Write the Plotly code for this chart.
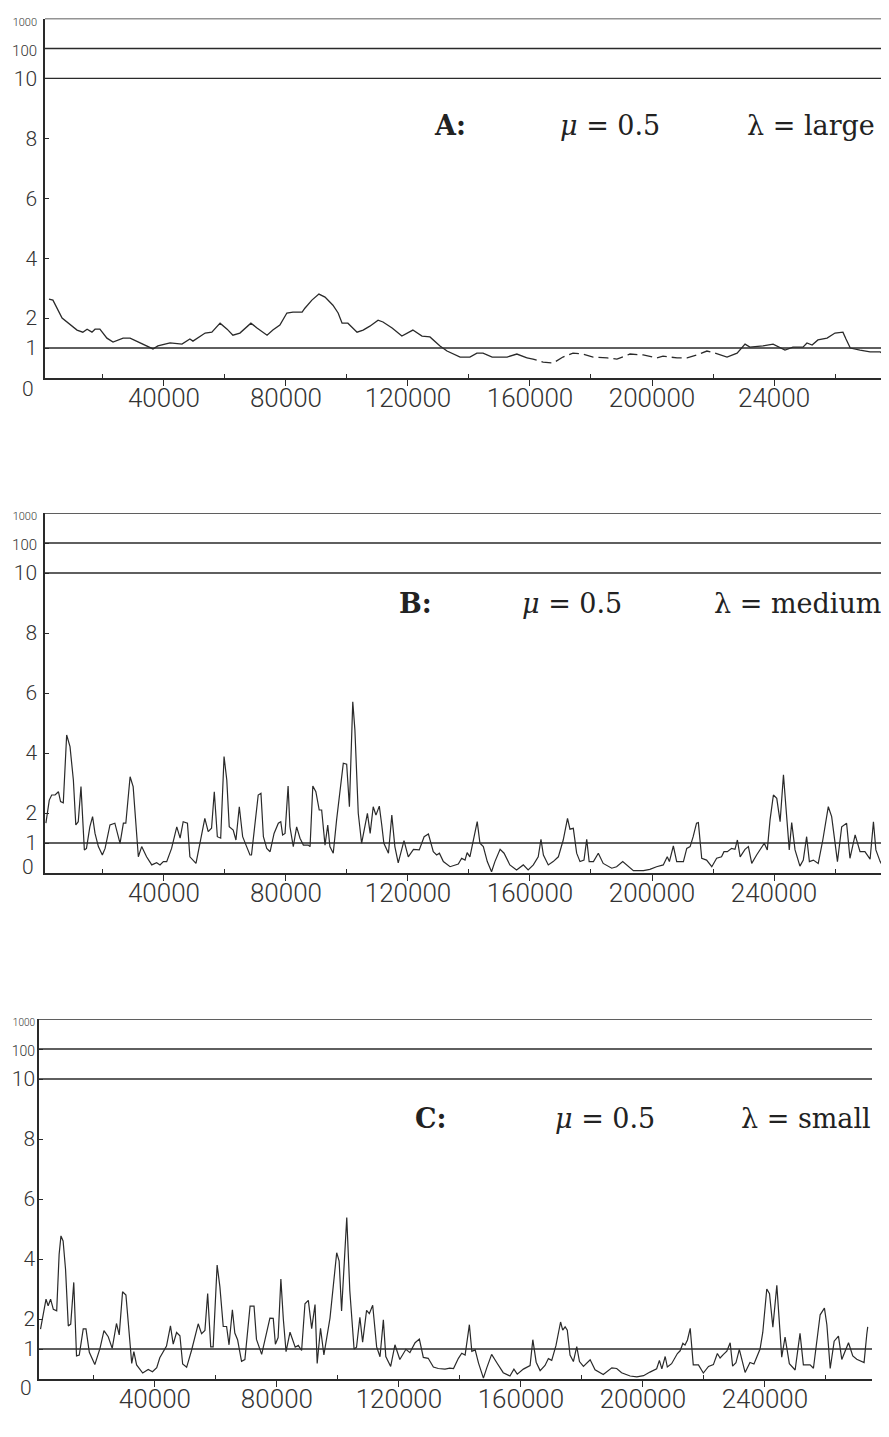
import numpy as np
import plotly.graph_objects as go

# ---------------- data (positions in thousands, values on the original scale) ----------------
PANELS = ["A", "B", "C"]
LAMBDA_TEXT = ["large", "medium", "small"]
MU = 0.5

X_TICKS = [40000, 80000, 120000, 160000, 200000, 240000]
X_MINOR_TICKS = [20000, 60000, 100000, 140000, 180000, 220000, 260000]
X_TEXT_A = ["40000", "80000", "120000", "160000", "200000", "24000"]
X_TEXT_BC = ["40000", "80000", "120000", "160000", "200000", "240000"]
Y_TICK_VALUES = [1, 2, 4, 6, 8, 10, 100, 1000]
REF_LEVELS = [1, 10, 100, 1000]

a_pos_k = [2.3, 3.6, 6.6, 11.5, 13.4, 14.8, 16.4, 17.4, 19.0, 21.3, 23.3, 26.6, 28.9, 32.1, 34.8,
           36.4, 38.0, 42.0, 45.9, 48.5, 49.5, 53.5, 55.7, 58.4, 60.7, 62.6, 64.9, 66.6, 68.5, 70.5,
           73.8, 75.7, 78.0, 80.3, 82.3, 85.3, 86.2, 88.5, 90.8, 92.8, 95.4, 97.1, 98.4, 100.3, 103.3,
           105.3, 107.5, 110.2, 111.8, 114.8, 118.0, 121.6, 124.6, 127.2, 130.5, 132.8, 137.1, 140.3,
           142.6, 144.6, 147.6, 152.5, 155.7, 159.0, 161.0, 164.3, 167.6, 170.8, 174.1, 177.4, 180.7,
           185.3, 188.5, 192.8, 197.1, 201.6, 203.6, 208.2, 211.5, 214.8, 218.0, 220.7, 224.6, 227.9,
           230.5, 232.1, 236.4, 239.7, 243.6, 246.2, 249.5, 250.8, 252.5, 254.4, 257.4, 260.0, 262.6,
           263.6, 265.0, 268.2, 271.5, 274.8, 277.7]
a_val = [2.63, 2.6, 2.0, 1.6, 1.53, 1.63, 1.53, 1.63, 1.63, 1.33, 1.2, 1.33, 1.33, 1.17, 1.03,
         0.97, 1.07, 1.17, 1.13, 1.3, 1.23, 1.5, 1.53, 1.83, 1.63, 1.43, 1.5, 1.67, 1.83, 1.67,
         1.43, 1.6, 1.77, 2.17, 2.2, 2.2, 2.33, 2.6, 2.8, 2.7, 2.43, 2.17, 1.83, 1.83, 1.53,
         1.6, 1.73, 1.93, 1.87, 1.67, 1.4, 1.6, 1.4, 1.37, 1.07, 0.9, 0.7, 0.7,
         0.83, 0.83, 0.7, 0.7, 0.8, 0.67, 0.63, 0.53, 0.5, 0.7, 0.83, 0.8, 0.7,
         0.67, 0.63, 0.8, 0.77, 0.67, 0.73, 0.67, 0.67, 0.77, 0.9, 0.83, 0.7, 0.83,
         1.13, 1.03, 1.07, 1.13, 0.93, 1.03, 1.03, 1.17, 1.1, 1.27, 1.33, 1.5, 1.53,
         1.3, 1.0, 0.93, 0.87, 0.87, 0.67]
a_dashed_span_k = [159.0, 220.7]

b_pos_k = [1.3, 2.4, 3.2, 4.3, 5.4, 6.1, 7.0, 8.1, 9.2, 10.3, 11.1, 11.9, 12.8, 13.3, 13.9, 14.6,
           15.7, 16.6, 17.4, 18.5, 19.8, 20.7, 22.3, 23.9, 25.6, 26.7, 27.5, 28.9, 29.9, 31.6, 32.7,
           34.3, 36.0, 37.6, 38.7, 39.8, 40.9, 42.5, 44.2, 45.3, 46.3, 47.7, 48.5, 50.5, 51.8, 53.4,
           54.5, 55.6, 56.5, 57.5, 58.6, 59.7, 60.6, 61.4, 62.7, 63.6, 64.7, 65.8, 67.1, 68.2, 68.7,
           69.8, 70.9, 71.8, 72.6, 73.7, 74.8, 76.1, 77.5, 78.3, 78.9, 79.7, 80.7, 81.3, 82.4, 83.5,
           84.6, 85.7, 87.3, 87.9, 88.8, 89.8, 90.9, 91.7, 92.8, 93.7, 94.4, 95.5, 96.6, 98.8, 99.9,
           100.8, 101.9, 102.6, 103.7, 104.8, 105.6, 106.7, 107.6, 108.6, 109.5, 110.6, 111.4, 112.1,
           113.6, 114.7, 115.7, 116.8, 118.7, 120.1, 121.8, 123.7, 125.3, 126.7, 128.3, 129.4, 130.3,
           131.6, 133.8, 136.5, 137.6, 138.7, 139.4, 140.3, 141.9, 142.7, 143.6, 144.7, 146.0, 147.4,
           148.5, 150.2, 151.5, 153.4, 155.6, 157.8, 159.4, 161.1, 162.7, 163.6, 164.4, 166.0, 167.6,
           169.3, 170.9, 172.3, 173.1, 174.2, 175.3, 176.4, 177.7, 178.6, 179.4, 180.8, 182.4, 184.0,
           186.8, 188.4, 190.4, 191.7, 193.9, 197.2, 199.3, 201.5, 203.7, 205.0, 205.7, 207.0, 208.1,
           210.3, 211.4, 212.5, 213.5, 214.6, 215.2, 216.3, 217.9, 219.6, 221.2, 222.8, 223.6, 224.7,
           226.1, 227.2, 228.0, 228.9, 230.5, 231.6, 232.7, 234.3, 236.0, 236.8, 237.8, 238.7, 239.8,
           240.9, 242.0, 243.1, 243.9, 245.0, 245.8, 246.9, 248.5, 249.6, 250.7, 251.6, 252.9, 254.5,
           256.0, 257.8, 258.9, 260.8, 262.2, 263.8, 264.9, 266.6, 268.2, 269.8, 271.5, 272.6, 273.4,
           274.8, 276.4, 277.7]
b_val = [1.66, 2.43, 2.6, 2.6, 2.71, 2.38, 2.34, 4.6, 4.21, 3.1, 1.6, 1.71, 2.88, 1.71, 0.77, 0.82,
         1.54, 1.88, 1.32, 0.88, 0.6, 0.82, 1.6, 1.66, 0.99, 1.66, 1.66, 3.21, 2.88, 0.54, 0.88,
         0.54, 0.27, 0.34, 0.27, 0.38, 0.38, 0.82, 1.54, 1.16, 1.71, 1.66, 0.54, 0.32, 1.04, 1.82,
         1.38, 1.49, 2.71, 1.21, 1.16, 3.88, 3.1, 1.54, 1.43, 1.1, 2.21, 1.21, 0.88, 0.6, 0.6,
         1.54, 2.6, 2.66, 1.21, 0.82, 0.71, 1.32, 1.66, 1.71, 1.27, 1.32, 2.9, 1.54, 0.88, 1.54,
         1.16, 0.93, 0.93, 0.88, 2.9, 2.71, 2.1, 2.1, 0.93, 1.6, 0.88, 0.66, 1.77, 3.66, 3.63,
         2.21, 5.71, 4.77, 1.99, 0.99, 1.43, 1.99, 1.32, 2.21, 1.93, 2.23, 1.6, 0.99,
         0.66, 1.93, 0.88, 0.34, 1.08, 0.54, 0.79, 0.77, 1.21, 1.3, 0.71, 0.6, 0.66,
         0.38, 0.21, 0.3, 0.49, 0.43, 0.68, 0.54, 1.32, 1.71, 0.99, 0.88, 0.38, 0.04,
         0.38, 0.79, 0.66, 0.27, 0.1, 0.27, 0.1, 0.27, 0.54, 1.12, 0.6, 0.27, 0.38,
         0.54, 1.1, 1.82, 1.46, 1.49, 0.66, 0.38, 0.43, 1.12, 0.38, 0.38, 0.66, 0.32,
         0.16, 0.21, 0.38, 0.27, 0.08, 0.08, 0.12, 0.21, 0.27, 0.54, 0.38, 0.9, 0.38,
         0.38, 0.82, 0.88, 1.21, 1.66, 1.68, 0.49, 0.43, 0.21, 0.49, 0.54, 0.71, 0.71,
         0.82, 0.79, 1.1, 0.54, 0.79, 0.88, 0.32, 0.6, 0.88, 0.99, 0.77, 1.77, 2.6,
         2.49, 1.71, 3.27, 2.21, 0.77, 1.68, 0.77, 0.23, 0.43, 1.21, 0.38, 0.43, 0.32,
         1.1, 2.21, 1.88, 0.38, 1.54, 1.66, 0.49, 1.27, 0.71, 0.71, 0.46, 1.71, 0.77,
         0.38, 0.1, 0.04]

c_pos_k = [2.5, 3.4, 4.3, 5.0, 5.8, 6.7, 7.8, 8.6, 9.2, 9.9, 10.7, 11.6, 12.4, 13.4, 14.3, 15.2,
           16.5, 17.4, 18.5, 20.3, 22.0, 23.3, 24.7, 26.0, 27.4, 28.3, 29.4, 30.5, 32.4, 33.1, 34.0,
           36.0, 37.8, 39.2, 40.6, 41.6, 43.8, 45.1, 46.0, 47.1, 48.2, 49.1, 50.4, 52.0, 54.2, 55.3,
           56.4, 57.3, 58.3, 59.1, 60.4, 61.3, 62.4, 63.5, 64.3, 65.4, 66.2, 67.1, 68.4, 69.5, 71.2,
           72.5, 73.3, 75.0, 76.6, 77.7, 78.8, 79.5, 80.4, 81.3, 82.1, 83.0, 84.3, 86.0, 87.0, 88.1,
           89.2, 90.3, 91.4, 92.5, 93.2, 94.3, 95.4, 97.4, 99.6, 100.4, 101.2, 102.9, 103.9, 105.3,
           106.1, 107.2, 108.1, 109.4, 110.3, 111.4, 112.7, 113.8, 114.9, 115.7, 117.3, 118.7, 120.3,
           122.3, 123.6, 125.3, 126.7, 128.0, 129.6, 131.3, 132.9, 135.1, 136.7, 137.9, 139.5, 140.6,
           141.7, 143.1, 143.9, 145.0, 146.1, 147.7, 148.8, 150.4, 152.1, 154.2, 156.4, 157.7, 158.8,
           160.8, 163.0, 163.9, 165.0, 166.3, 167.9, 169.0, 170.1, 171.5, 173.0, 173.7, 174.5, 175.2,
           176.1, 177.2, 178.3, 179.2, 180.5, 182.7, 184.3, 187.0, 189.8, 191.4, 193.0, 195.8, 198.0,
           200.2, 202.3, 204.5, 205.4, 206.2, 207.3, 208.0, 209.4, 211.3, 212.2, 213.1, 213.8, 214.6,
           215.5, 216.5, 218.2, 219.8, 221.5, 223.1, 224.4, 225.3, 226.4, 227.5, 228.6, 229.4, 230.5,
           231.6, 233.5, 235.1, 236.4, 237.9, 238.4, 239.3, 240.6, 241.5, 242.6, 243.9, 245.0, 245.5,
           246.6, 248.0, 249.9, 251.5, 252.6, 254.8, 255.9, 258.1, 259.5, 260.3, 261.4, 262.7, 264.1,
           265.2, 267.4, 268.8, 270.1, 271.7, 272.5, 273.4, 273.7]
c_val = [1.66, 2.21, 2.66, 2.44, 2.66, 2.32, 2.27, 4.16, 4.77, 4.6, 3.66, 1.77, 1.83, 3.22, 0.77, 0.8,
         1.67, 1.67, 0.89, 0.48, 1.02, 1.61, 1.41, 1.02, 1.85, 1.47, 2.91, 2.8, 0.52, 0.91, 0.47,
         0.2, 0.32, 0.24, 0.38, 0.71, 1.1, 1.77, 1.16, 1.55, 1.44, 0.5, 0.39, 0.95, 1.84, 1.51,
         1.62, 2.85, 1.07, 1.07, 3.8, 3.08, 1.75, 1.75, 1.14, 2.31, 1.53, 1.31, 0.59, 0.65, 2.43,
         2.43, 1.32, 0.82, 1.49, 2.03, 2.02, 1.16, 1.38, 3.33, 2.0, 0.91, 1.56, 1.06, 1.12, 0.95,
         2.51, 2.62, 1.68, 2.48, 0.52, 1.69, 0.8, 2.03, 4.21, 3.93, 2.27, 5.38, 2.94, 1.0,
         1.06, 2.06, 1.23, 2.29, 2.18, 2.46, 1.07, 0.74, 1.97, 0.75, 0.42, 1.14, 0.65,
         0.99, 0.88, 1.21, 1.33, 0.72, 0.69, 0.4, 0.35, 0.33, 0.36, 0.35, 0.69, 0.86,
         0.8, 1.81, 0.92, 0.97, 0.53, 0.03, 0.37, 0.82, 0.54, 0.21, 0.1, 0.33, 0.16,
         0.33, 0.45, 1.31, 0.56, 0.28, 0.45, 0.68, 0.62, 1.12, 1.9, 1.63, 1.74, 1.63,
         0.8, 0.58, 1.08, 0.58, 0.42, 0.64, 0.31, 0.15, 0.37, 0.35, 0.21, 0.1, 0.07,
         0.11, 0.23, 0.34, 0.62, 0.34, 0.75, 0.4, 0.51, 0.85, 0.94, 1.19, 1.13, 1.3,
         1.69, 0.47, 0.47, 0.2, 0.42, 0.48, 0.85, 0.7, 0.82, 0.93, 1.21, 0.43, 0.54,
         0.99, 0.22, 0.55, 0.5, 0.83, 1.0, 1.56, 3.0, 2.84, 1.73, 3.12, 1.68, 0.73,
         1.4, 0.51, 0.3, 1.52, 0.47, 0.47, 0.36, 2.14, 2.36, 1.81, 0.35, 1.26, 1.43,
         0.65, 1.21, 0.77, 0.66, 0.6, 0.55, 1.5, 1.74]

# ---------------- helpers ----------------
def ymap(v):
    """Linear from 0 to 10, then one unit per decade (10 -> 100 -> 1000)."""
    v = np.asarray(v, dtype=float)
    return np.where(v <= 10, v, 10 + np.log10(np.maximum(v, 10) / 10))

INK = "#2a2a2a"
TICK_FONT_Y = dict(family="Roboto", size=21, color="#333333", weight=300)
TICK_FONT_X = dict(family="Roboto", size=26, color="#333333", weight=300)
TEXT_FONT = dict(family="DejaVu Serif", size=27, color="#222222")

series = [
    (np.array(a_pos_k) * 1000, np.array(a_val)),
    (np.array(b_pos_k) * 1000, np.array(b_val)),
    (np.array(c_pos_k) * 1000, np.array(c_val)),
]

# the page places the figure 8 px in from the window's top-left corner
OFF = 8
PAGE_W, PAGE_H = 889, 1437
W, H = PAGE_W - OFF, PAGE_H - OFF


def px(xp):
    return (xp - OFF) / W


def py(yp):
    return 1 - (yp - OFF) / H


# frame of each panel in window pixels
frames = [
    dict(left=45, right=889, top=18.5, bottom=378, xr=[1000, 277700], zero_shift=-11,
         text_y=8.43, lab_k=127.9, mu_k=169.2, lam_px=877, xtext=X_TEXT_A,
         big_sizes=(11, 15), ystand=2),
    dict(left=45, right=889, top=513, bottom=873, xr=[1000, 277700], zero_shift=6,
         text_y=9.0, lab_k=116.4, mu_k=156.7, lam_px=883, xtext=X_TEXT_BC,
         big_sizes=(11, 15), ystand=2),
    dict(left=39, right=872, top=1019, bottom=1379, xr=[2000, 275100], zero_shift=-9,
         text_y=8.7, lab_k=124.6, mu_k=170.5, lam_px=873, xtext=X_TEXT_BC,
         big_sizes=(10, 14), ystand=-2),
]


def ytick_text(big_sizes):
    out = []
    for v in Y_TICK_VALUES:
        s = str(v)
        if v == 1000:
            s = '<span style="font-size:%dpx">%s</span>' % (big_sizes[0], s)
        elif v == 100:
            s = '<span style="font-size:%dpx">%s</span>' % (big_sizes[1], s)
        out.append(s)
    return out


fig = go.Figure()
layout = dict(width=W, height=H, margin=dict(l=0, r=0, t=0, b=0, autoexpand=False),
              paper_bgcolor="white", plot_bgcolor="rgba(0,0,0,0)", showlegend=False)
shapes = []
annotations = []

for i, (fr, (xs, ys)) in enumerate(zip(frames, series)):
    n = "" if i == 0 else str(i + 1)
    xa, ya = "x" + n, "y" + n
    ym = ymap(ys)
    if i == 0:
        lo, hi = np.array(a_dashed_span_k) * 1000
        m1 = xs <= lo
        m2 = (xs >= lo) & (xs <= hi)
        m3 = xs >= hi
        for m, dash in [(m1, "solid"), (m2, "10px,5px"), (m3, "solid")]:
            fig.add_trace(go.Scatter(x=xs[m], y=ym[m], mode="lines", xaxis=xa, yaxis=ya,
                                     line=dict(color=INK, width=1.3, dash=dash), hoverinfo="skip"))
    else:
        fig.add_trace(go.Scatter(x=xs, y=ym, mode="lines", xaxis=xa, yaxis=ya,
                                 line=dict(color=INK, width=1.2), hoverinfo="skip"))

    layout["xaxis" + n] = dict(
        domain=[px(fr["left"]), min(1.0, px(fr["right"]))], range=fr["xr"], anchor=ya,
        tickmode="array", tickvals=X_TICKS, ticktext=fr["xtext"],
        ticks="outside", ticklen=6, tickwidth=1.2, tickcolor=INK,
        minor=dict(tickvals=X_MINOR_TICKS, ticks="inside", ticklen=4, tickwidth=1.2,
                   tickcolor=INK, showgrid=False),
        showline=True, linecolor=INK, linewidth=1.5, showgrid=False, zeroline=False,
        tickfont=TICK_FONT_X, ticklabelstandoff=-10, automargin=False)
    layout["yaxis" + n] = dict(
        domain=[py(fr["bottom"]), py(fr["top"])], range=[0, 12], anchor=xa,
        tickmode="array", tickvals=list(ymap(Y_TICK_VALUES)),
        ticktext=ytick_text(fr["big_sizes"]),
        ticks="inside", ticklen=4, tickwidth=1.2, tickcolor=INK,
        showline=True, linecolor=INK, linewidth=1.5, showgrid=False, zeroline=False,
        tickfont=TICK_FONT_Y, ticklabelstandoff=fr["ystand"], automargin=False)

    for lvl in REF_LEVELS:
        yv = float(ymap([lvl])[0])
        shapes.append(dict(type="line", xref=xa, yref=ya, x0=fr["xr"][0], x1=fr["xr"][1],
                           y0=yv, y1=yv, line=dict(color=INK, width=1.4)))

    annotations.append(dict(xref=xa + " domain", yref=ya, x=0, y=0, text="0", showarrow=False,
                            xanchor="right", yanchor="middle", xshift=-7 - fr["ystand"],
                            yshift=fr["zero_shift"], font=TICK_FONT_Y))
    annotations.append(dict(xref=xa, yref=ya, x=fr["lab_k"] * 1000, y=fr["text_y"],
                            text="<b>%s:</b>" % PANELS[i], showarrow=False, xanchor="left",
                            yanchor="middle", font=TEXT_FONT))
    annotations.append(dict(xref=xa, yref=ya, x=fr["mu_k"] * 1000, y=fr["text_y"],
                            text="<i>μ</i> = %s" % MU, showarrow=False, xanchor="left",
                            yanchor="middle", font=TEXT_FONT))
    annotations.append(dict(xref="paper", yref=ya, x=px(fr["lam_px"]), y=fr["text_y"],
                            text="λ = %s" % LAMBDA_TEXT[i], showarrow=False, xanchor="right",
                            yanchor="middle", font=TEXT_FONT))

layout["shapes"] = shapes
layout["annotations"] = annotations
fig.update_layout(**layout)
fig.write_html("out.html")
